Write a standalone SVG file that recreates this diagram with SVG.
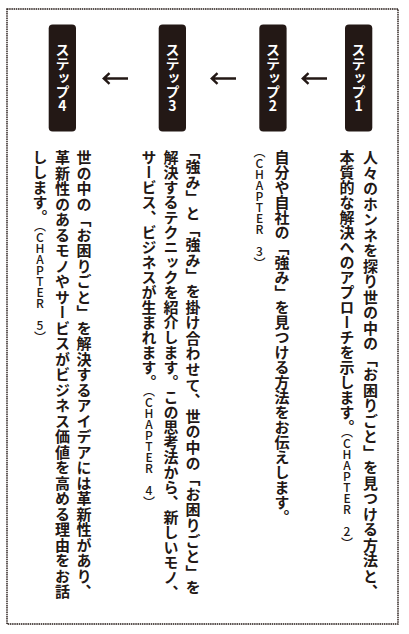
<svg xmlns="http://www.w3.org/2000/svg" width="409" height="634" viewBox="0 0 409 634">
<style>
.frame{fill:none;stroke:#231815;stroke-width:1.4;stroke-dasharray:1.5 0.7}
.box{fill:#231815}
.lbl{font-family:"Noto Sans CJK JP",sans-serif;font-weight:700;font-size:14px;fill:#fff;writing-mode:vertical-rl;text-orientation:upright}
.body{font-family:"Noto Sans CJK JP",sans-serif;font-weight:700;font-size:15px;fill:#231815;writing-mode:vertical-rl}
.just{letter-spacing:0.5px}
.ch{font-family:"Noto Sans CJK JP",sans-serif;font-weight:500;font-size:12px;letter-spacing:-0.9px;fill:#231815;writing-mode:vertical-rl;text-orientation:upright}
.arr{fill:none;stroke:#231815;stroke-width:2.4}
</style>
<rect class="frame" x="7" y="9" width="391" height="615"/>
<g id="step1">
<rect class="box" x="345" y="24.5" width="27.3" height="107" rx="4"/>
<text class="lbl" x="358.6" y="78" text-anchor="middle">ステップ1</text>
<text class="body just" x="370.5" y="150">人々のホンネを探り世の中の「お困りごと」を見つける方法と、</text>
<text class="body" x="347" y="150">本質的な解決へのアプローチを示します。</text>
<text class="ch" x="347" y="426">（CHAPTER 2）</text>
</g>
<g id="step2">
<rect class="box" x="259.3" y="24.5" width="27.3" height="107" rx="4"/>
<text class="lbl" x="273" y="78" text-anchor="middle">ステップ2</text>
<text class="body" x="282" y="150">自分や自社の「強み」を見つける方法をお伝えします。</text>
<text class="ch" x="259.5" y="146">（CHAPTER 3）</text>
</g>
<g id="step3">
<rect class="box" x="158.7" y="24.5" width="27.3" height="107" rx="4"/>
<text class="lbl" x="172.4" y="78" text-anchor="middle">ステップ3</text>
<text class="body" x="193" y="143.5" style="letter-spacing:0.6px">「強み」と「強み」を掛け合わせて、世の中の「お困りごと」を</text>
<text class="body" x="171" y="150">解決するテクニックを紹介します。この思考法から、新しいモノ、</text>
<text class="body" x="149" y="150">サービス、ビジネスが生まれます。</text>
<text class="ch" x="149" y="385">（CHAPTER 4）</text>
</g>
<g id="step4">
<rect class="box" x="48.7" y="24.5" width="27.3" height="107" rx="4"/>
<text class="lbl" x="62.4" y="78" text-anchor="middle">ステップ4</text>
<text class="body just" x="84" y="150">世の中の「お困りごと」を解決するアイデアには革新性があり、</text>
<text class="body just" x="62.5" y="150">革新性のあるモノやサービスがビジネス価値を高める理由をお話</text>
<text class="body" x="40" y="150">しします。</text>
<text class="ch" x="40" y="220">（CHAPTER 5）</text>
</g>
<g id="connectors">
<path class="arr" d="M327 78.5H303.5M308.5 73.2L302.8 78.5L308.5 83.8"/>
<path class="arr" d="M236 78.5H212.5M217.5 73.2L211.8 78.5L217.5 83.8"/>
<path class="arr" d="M128 78.5H104.5M109.5 73.2L103.8 78.5L109.5 83.8"/>
</g>
</svg>
